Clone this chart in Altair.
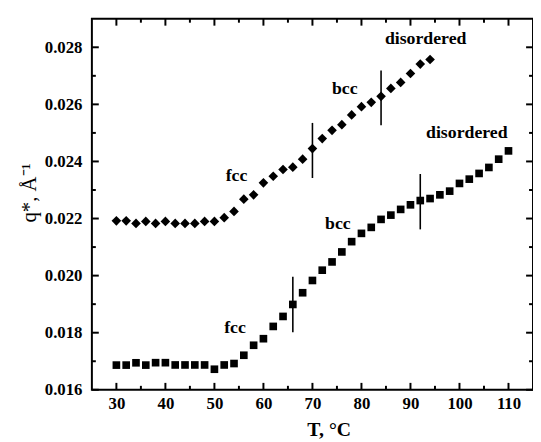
import altair as alt
import pandas as pd

# --- data ---
T_top = [30, 32, 34, 36, 38, 40, 42, 44, 46, 48, 50, 52, 54, 56, 58, 60, 62,
         64, 66, 68, 70, 72, 74, 76, 78, 80, 82, 84, 86, 88, 90, 92, 94]
q_top = [0.02192, 0.02192, 0.02183, 0.02190, 0.02183, 0.02190, 0.02183, 0.02183,
         0.02183, 0.02190, 0.02190, 0.02203, 0.02225, 0.02268, 0.02283, 0.02325,
         0.02348, 0.02372, 0.02380, 0.02408, 0.02445, 0.02480, 0.02509, 0.02529,
         0.02563, 0.02592, 0.02607, 0.02628, 0.02656, 0.02677, 0.02708, 0.02741,
         0.02757]

T_bot = [30, 32, 34, 36, 38, 40, 42, 44, 46, 48, 50, 52, 54, 56, 58, 60, 62, 64,
         66, 68, 70, 72, 74, 76, 78, 80, 82, 84, 86, 88, 90, 92, 94, 96, 98, 100,
         102, 104, 106, 108, 110]
q_bot = [0.016865, 0.016865, 0.016946, 0.016865, 0.01695, 0.01695, 0.01687, 0.01687,
         0.01687, 0.01687, 0.01672, 0.01687, 0.01692, 0.01721, 0.01756, 0.01779,
         0.01822, 0.01857, 0.01899, 0.01940, 0.01983, 0.02019, 0.02048, 0.02083,
         0.02119, 0.02148, 0.02169, 0.02197, 0.02212, 0.02232, 0.02248, 0.02263,
         0.02270, 0.02283, 0.02296, 0.02323, 0.02338, 0.02358, 0.02379, 0.02408,
         0.02437]

trans_T = [70, 84, 66, 92]
trans_lo = [0.02342, 0.02527, 0.01802, 0.02162]
trans_hi = [0.02535, 0.02719, 0.01996, 0.02356]

lab_up_text = ["disordered", "bcc", "fcc"]
lab_up_T = [93.1, 76.6, 54.5]
lab_up_q = [0.02829, 0.02654, 0.02349]

lab_lo_text = ["disordered", "bcc", "fcc"]
lab_lo_T = [101.5, 75.2, 54.2]
lab_lo_q = [0.02501, 0.02179, 0.01817]

x_major = [30, 40, 50, 60, 70, 80, 90, 100, 110]
x_minor = [35, 45, 55, 65, 75, 85, 95, 105]
y_major = [0.016, 0.018, 0.020, 0.022, 0.024, 0.026, 0.028]
y_minor = [0.017, 0.019, 0.021, 0.023, 0.025, 0.027]

FONT = "Liberation Serif"
W, H = 447, 376
X_DOM = [25, 115]
Y_DOM = [0.016, 0.029]
xscale = alt.Scale(domain=X_DOM, nice=False, zero=False)
yscale = alt.Scale(domain=Y_DOM, nice=False, zero=False)

# tick lengths (pixels) expressed in data units of each scale
XU = (X_DOM[1] - X_DOM[0]) / W
YU = (Y_DOM[1] - Y_DOM[0]) / H

# one shared axis definition per channel, used identically in every layer
AX = alt.Axis(
    orient="bottom", values=x_major, ticks=False, tickSize=0, domain=False,
    grid=False, labelPadding=6, labelFont=FONT, labelFontSize=17,
    labelFontWeight="bold", labelColor="black",
    title="T, °C", titleFont=FONT, titleFontSize=20, titleFontWeight="bold",
    titleColor="black", titleX=240, titleY=40, titleBaseline="middle")
AY = alt.Axis(
    orient="left", values=y_major, format=".3f", ticks=False, tickSize=0,
    domain=False, grid=False, labelPadding=10, labelFont=FONT,
    labelFontSize=17, labelFontWeight="bold", labelColor="black",
    title="q*, Å⁻¹", titleFont=FONT, titleFontSize=21,
    titleFontWeight="normal", titleColor="black", titleX=-63, titleY=176,
    titleBaseline="middle")

df_top = pd.DataFrame({"T": T_top, "q": q_top})
df_bot = pd.DataFrame({"T": T_bot, "q": q_bot})
df_tr = pd.DataFrame({"T": trans_T, "lo": trans_lo, "hi": trans_hi})
df_lu = pd.DataFrame({"T": lab_up_T, "q": lab_up_q, "t": lab_up_text})
df_ll = pd.DataFrame({"T": lab_lo_T, "q": lab_lo_q, "t": lab_lo_text})


def x_ticks(values, edge, length_px, sign):
    """Inward ticks along a horizontal edge (bottom/top)."""
    return alt.Chart(pd.DataFrame({"v": values})).mark_rule(
        color="black", strokeWidth=2).encode(
        x=alt.X("v:Q", scale=xscale, axis=AX),
        y=alt.YDatum(edge, type="quantitative", scale=yscale, axis=AY),
        y2=alt.Y2Datum(edge + sign * length_px * YU),
    )


def y_ticks(values, edge, length_px, sign):
    """Inward ticks along a vertical edge (left/right)."""
    return alt.Chart(pd.DataFrame({"v": values})).mark_rule(
        color="black", strokeWidth=2).encode(
        y=alt.Y("v:Q", scale=yscale, axis=AY),
        x=alt.XDatum(edge, type="quantitative", scale=xscale, axis=AX),
        x2=alt.X2Datum(edge + sign * length_px * XU),
    )


squares = alt.Chart(df_bot).mark_square(size=60, color="black", opacity=1).encode(
    x=alt.X("T:Q", scale=xscale, axis=AX),
    y=alt.Y("q:Q", scale=yscale, axis=AY),
)

diamonds = alt.Chart(df_top).mark_point(shape="diamond", size=95, filled=True,
                                        color="black", opacity=1).encode(
    x=alt.X("T:Q", scale=xscale, axis=AX),
    y=alt.Y("q:Q", scale=yscale, axis=AY),
)

rules = alt.Chart(df_tr).mark_rule(color="black", strokeWidth=1.6).encode(
    x=alt.X("T:Q", scale=xscale, axis=AX),
    y=alt.Y("lo:Q", scale=yscale, axis=AY),
    y2="hi:Q",
)

text_up = alt.Chart(df_lu).mark_text(font=FONT, fontSize=18, fontWeight="bold",
                                     color="black", align="center",
                                     baseline="middle").encode(
    x=alt.X("T:Q", scale=xscale, axis=AX),
    y=alt.Y("q:Q", scale=yscale, axis=AY),
    text="t:N",
)

text_lo = alt.Chart(df_ll).mark_text(font=FONT, fontSize=18, fontWeight="bold",
                                     color="black", align="center",
                                     baseline="middle").encode(
    x=alt.X("T:Q", scale=xscale, axis=AX),
    y=alt.Y("q:Q", scale=yscale, axis=AY),
    text="t:N",
)

tick_layers = [
    x_ticks(x_major, Y_DOM[0], 7, 1), x_ticks(x_minor, Y_DOM[0], 4, 1),
    x_ticks(x_major, Y_DOM[1], 7, -1), x_ticks(x_minor, Y_DOM[1], 4, -1),
    y_ticks(y_major, X_DOM[0], 7, 1), y_ticks(y_minor, X_DOM[0], 4, 1),
    y_ticks(y_major, X_DOM[1], 7, -1), y_ticks(y_minor, X_DOM[1], 4, -1),
]

chart = alt.layer(squares, *tick_layers, diamonds, rules, text_up, text_lo).properties(
    width=W, height=H,
    autosize=alt.AutoSizeParams(type="none"),
    padding={"left": 85, "top": 8, "right": 0, "bottom": 48},
    background="white",
).configure_view(stroke="black", strokeWidth=2)

chart.save("out.html", embed_options={"renderer": "svg", "actions": False})
